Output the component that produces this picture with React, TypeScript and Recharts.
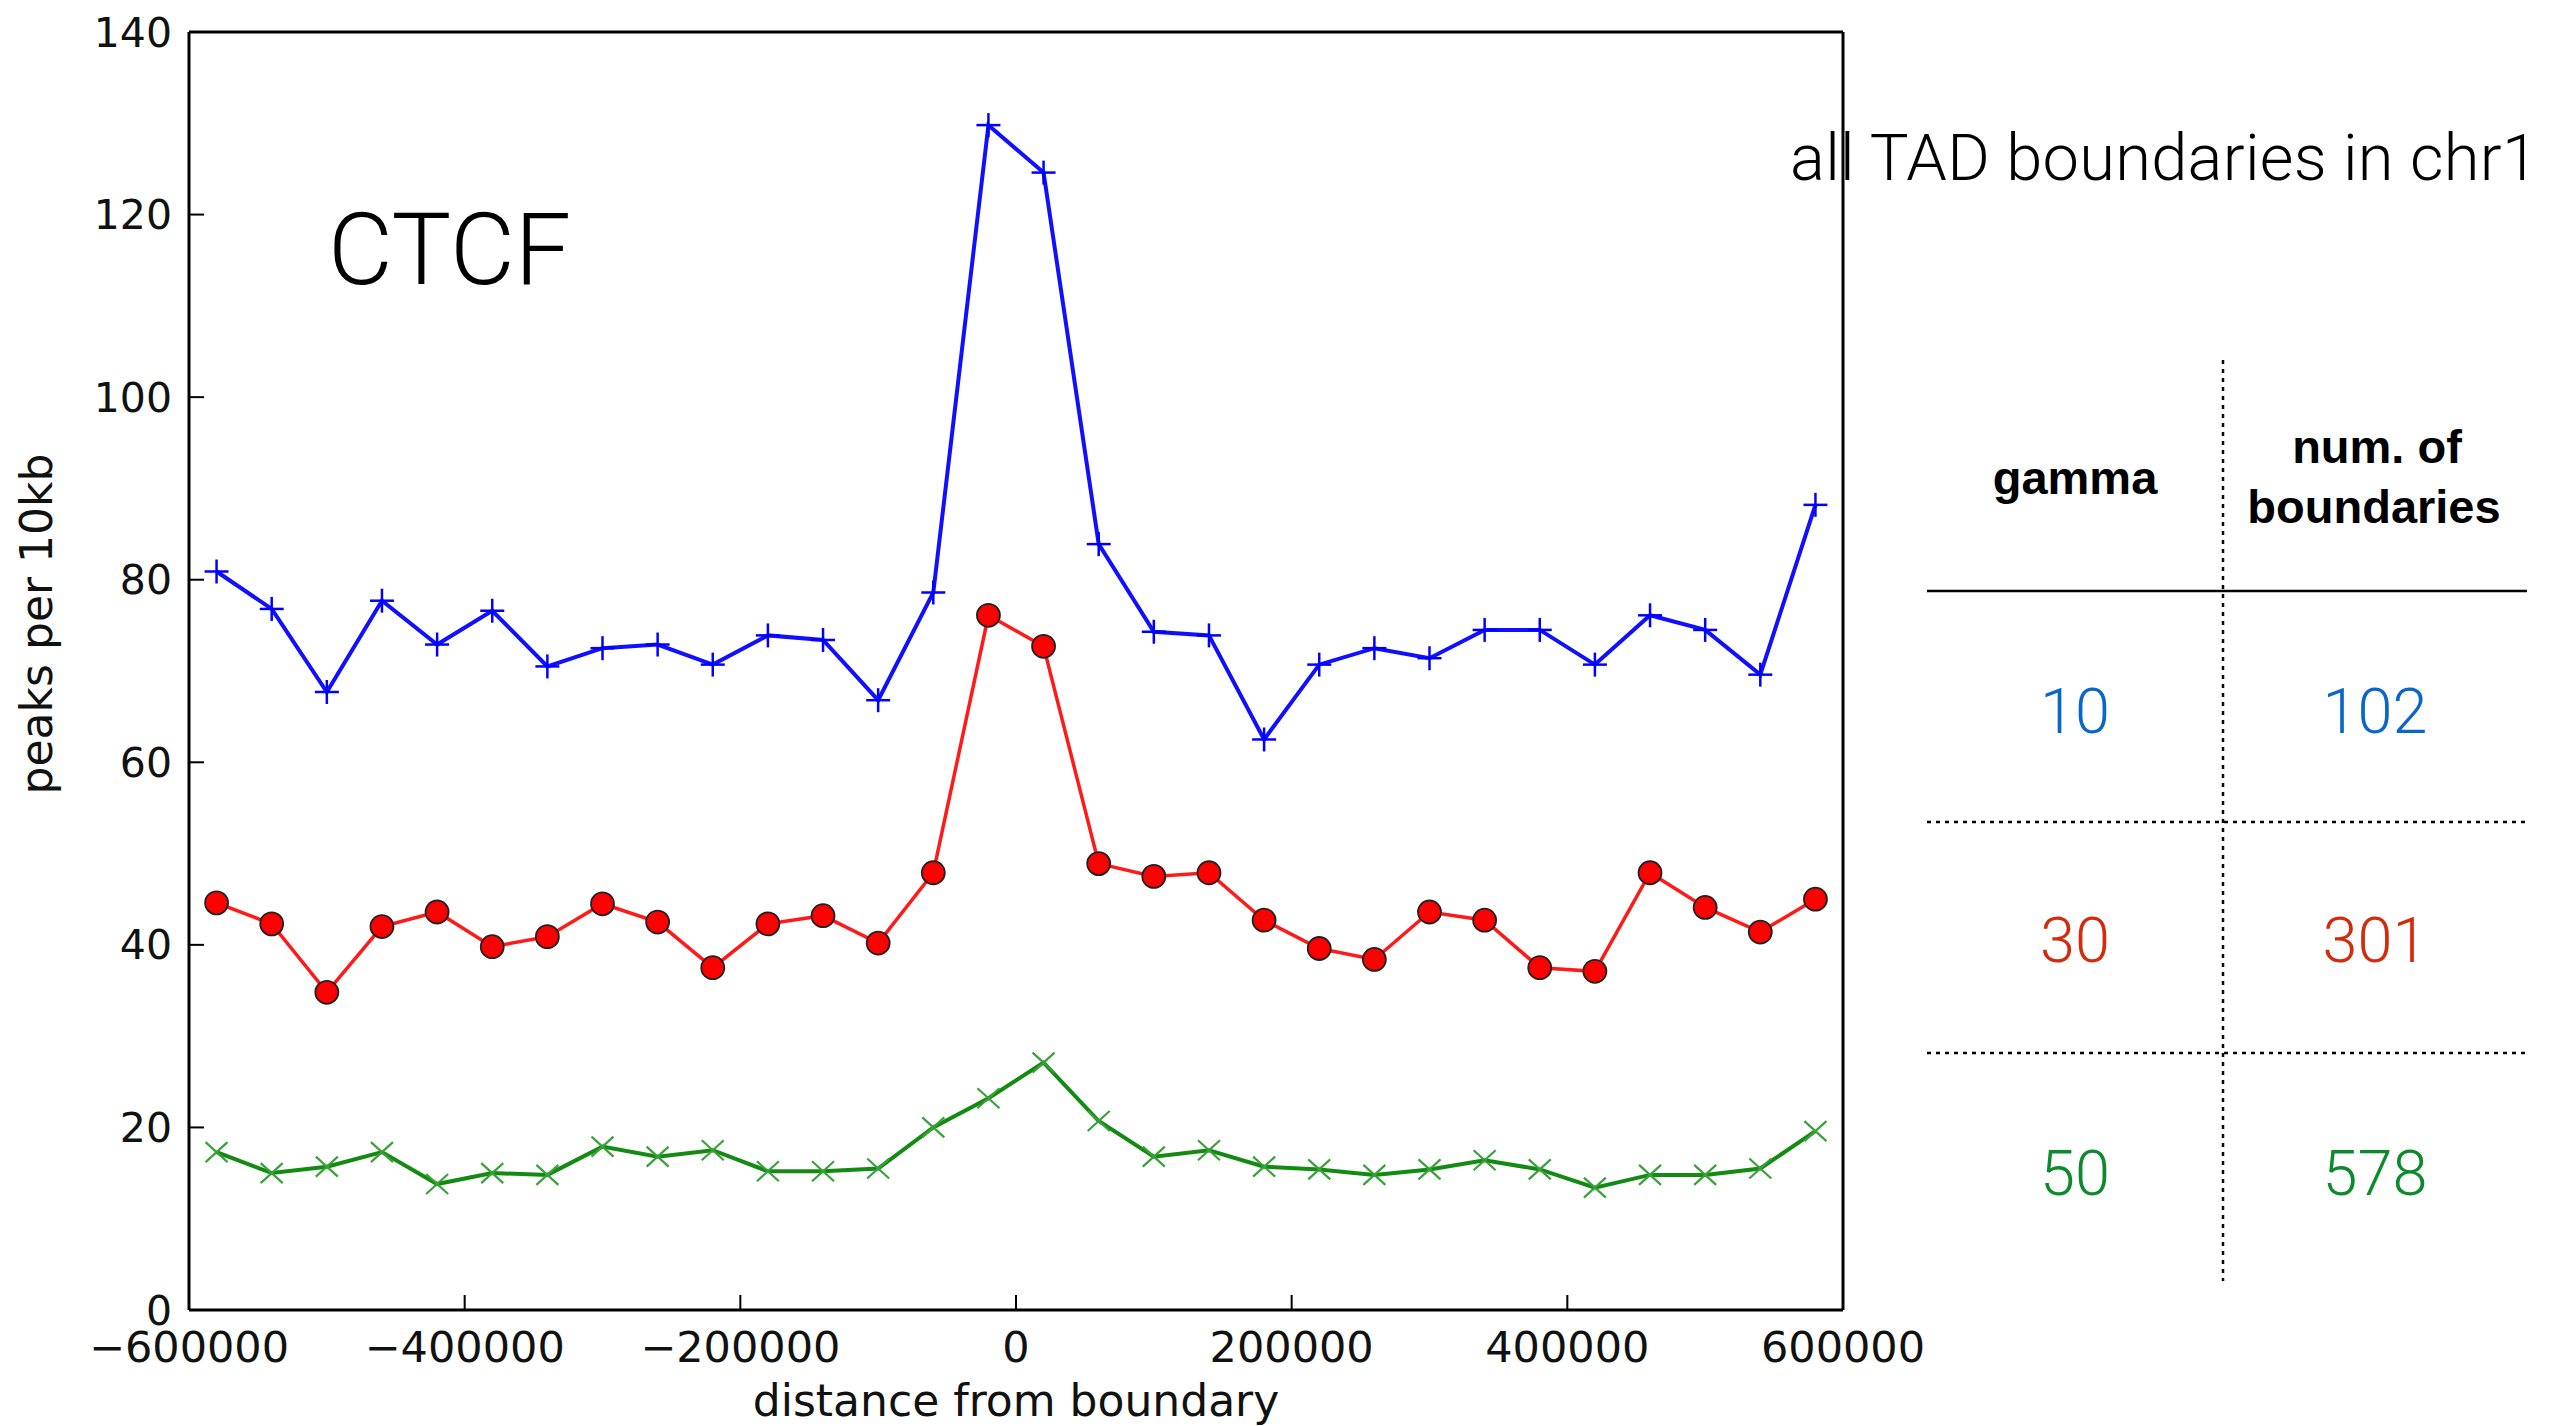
import React from 'react';
import { LineChart, Line, XAxis, YAxis } from 'recharts';

const positions = [
  -580000, -540000, -500000, -460000, -420000, -380000, -340000, -300000, -260000, -220000,
  -180000, -140000, -100000, -60000, -20000, 20000, 60000, 100000, 140000, 180000,
  220000, 260000, 300000, 340000, 380000, 420000, 460000, 500000, 540000, 580000,
];
const gamma10 = [
  80.9, 76.8, 67.7, 77.7, 72.9, 76.6, 70.5, 72.5, 72.9, 70.7,
  73.9, 73.4, 66.8, 78.6, 129.8, 124.6, 83.9, 74.3, 73.9, 62.5,
  70.7, 72.5, 71.4, 74.5, 74.5, 70.7, 76.1, 74.5, 69.6, 88.2,
];
const gamma30 = [
  44.6, 42.3, 34.8, 42.0, 43.6, 39.8, 40.9, 44.5, 42.5, 37.5,
  42.3, 43.2, 40.2, 47.9, 76.1, 72.7, 48.9, 47.5, 47.9, 42.7,
  39.6, 38.4, 43.6, 42.7, 37.5, 37.1, 47.9, 44.1, 41.4, 45.0,
];
const gamma50 = [
  17.3, 15.0, 15.7, 17.3, 13.8, 15.0, 14.8, 17.9, 16.8, 17.5,
  15.2, 15.2, 15.5, 20.0, 23.2, 27.1, 20.7, 16.8, 17.5, 15.7,
  15.4, 14.8, 15.4, 16.4, 15.4, 13.4, 14.8, 14.8, 15.5, 19.6,
];
const xTicks = [-600000, -400000, -200000, 0, 200000, 400000, 600000];
const yTicks = [0, 20, 40, 60, 80, 100, 120, 140];
const tableGamma = ['10', '30', '50'];
const tableCounts = ['102', '301', '578'];
const tableColors = ['#0a67c9', '#d22b0d', '#0d8a2c'];

const data = positions.map((x, i) => ({ x, g10: gamma10[i], g30: gamma30[i], g50: gamma50[i] }));

const fmt = (v: number) => (v < 0 ? '\u2212' + Math.abs(v) : String(v));
const xTickStyle = { fill: '#111', fontSize: 43, fontFamily: 'DejaVu Sans' };
const yTickStyle = { fill: '#111', fontSize: 41, fontFamily: 'DejaVu Sans' };

const PlusDot = (p: any) => {
  const { cx, cy, index } = p;
  if (cx == null || cy == null) return <g key={`p-${index}`} />;
  return (
    <g key={`p-${index}`}>
      <line x1={cx - 12} y1={cy} x2={cx + 12} y2={cy} stroke="#0000ff" strokeWidth={2.5} />
      <line x1={cx} y1={cy - 12} x2={cx} y2={cy + 12} stroke="#0000ff" strokeWidth={2.5} />
    </g>
  );
};
const CircleDot = (p: any) => {
  const { cx, cy, index } = p;
  if (cx == null || cy == null) return <g key={`c-${index}`} />;
  return <circle key={`c-${index}`} cx={cx} cy={cy} r={11.5} fill="#ff0000" stroke="#222" strokeWidth={1.8} />;
};
const XDot = (p: any) => {
  const { cx, cy, index } = p;
  if (cx == null || cy == null) return <g key={`x-${index}`} />;
  return (
    <g key={`x-${index}`}>
      <line x1={cx - 11} y1={cy - 10} x2={cx + 11} y2={cy + 10} stroke="#3aa03a" strokeWidth={2.2} />
      <line x1={cx - 11} y1={cy + 10} x2={cx + 11} y2={cy - 10} stroke="#3aa03a" strokeWidth={2.2} />
    </g>
  );
};

const rowBaselines = [733, 962, 1195];

export default function App() {
  return (
    <div style={{ position: 'absolute', left: 0, top: 0, width: 2559, height: 1426, background: '#fff' }}>
      <LineChart
        width={2559}
        height={1426}
        data={data}
        margin={{ top: 22, right: 706, bottom: 16, left: 89 }}
      >
        <XAxis
          xAxisId="bottom"
          dataKey="x"
          type="number"
          domain={[-600000, 600000]}
          ticks={xTicks}
          interval={0}
          tickFormatter={fmt}
          height={100}
          tick={xTickStyle}
          tickSize={-15}
          tickMargin={36}
          axisLine={{ stroke: '#000', strokeWidth: 3 }}
          tickLine={{ stroke: '#000', strokeWidth: 2 }}
          allowDataOverflow
        />
        <XAxis
          xAxisId="top"
          orientation="top"
          dataKey="x"
          type="number"
          domain={[-600000, 600000]}
          ticks={xTicks}
          interval={0}
          height={10}
          tick={false}
          tickSize={-15}
          axisLine={{ stroke: '#000', strokeWidth: 3 }}
          tickLine={{ stroke: '#000', strokeWidth: 2 }}
          allowDataOverflow
        />
        <YAxis
          yAxisId="left"
          type="number"
          domain={[0, 140]}
          ticks={yTicks}
          interval={0}
          width={100}
          tick={yTickStyle}
          tickSize={-15}
          tickMargin={32}
          axisLine={{ stroke: '#000', strokeWidth: 3 }}
          tickLine={{ stroke: '#000', strokeWidth: 2 }}
          allowDataOverflow
        />
        <YAxis
          yAxisId="right"
          orientation="right"
          type="number"
          domain={[0, 140]}
          ticks={yTicks}
          interval={0}
          width={10}
          tick={false}
          tickSize={-15}
          axisLine={{ stroke: '#000', strokeWidth: 3 }}
          tickLine={{ stroke: '#000', strokeWidth: 2 }}
          allowDataOverflow
        />
        <Line
          xAxisId="bottom"
          yAxisId="left"
          type="linear"
          dataKey="g50"
          stroke="#138b13"
          strokeWidth={4}
          dot={XDot}
          activeDot={false}
          isAnimationActive={false}
        />
        <Line
          xAxisId="bottom"
          yAxisId="left"
          type="linear"
          dataKey="g30"
          stroke="#ff1a1a"
          strokeWidth={3.5}
          dot={CircleDot}
          activeDot={false}
          isAnimationActive={false}
        />
        <Line
          xAxisId="bottom"
          yAxisId="left"
          type="linear"
          dataKey="g10"
          stroke="#1010ff"
          strokeWidth={4}
          dot={PlusDot}
          activeDot={false}
          isAnimationActive={false}
        />
      </LineChart>
      <svg
        width={2559}
        height={1426}
        style={{ position: 'absolute', left: 0, top: 0, pointerEvents: 'none' }}
      >
        <text
          x={36}
          y={624}
          transform="rotate(-90 36 624)"
          textAnchor="middle"
          dominantBaseline="central"
          fontFamily="DejaVu Sans"
          fontSize={44}
          fill="#111"
        >
          peaks per 10kb
        </text>
        <text x={1016} y={1416} textAnchor="middle" fontFamily="DejaVu Sans" fontSize={44} fill="#111">
          distance from boundary
        </text>
        <text x={328} y={284} fontFamily="Roboto" fontWeight={300} fontSize={100} fill="#000">
          CTCF
        </text>
        <text
          x={1790}
          y={180}
          fontFamily="Roboto"
          fontWeight={300}
          fontSize={65}
          textLength={748}
          fill="#000"
        >
          all TAD boundaries in chr1
        </text>
        <line x1={2223} y1={360} x2={2223} y2={1281} stroke="#000" strokeWidth={2.5} strokeDasharray="4 5" />
        <line x1={1927} y1={591} x2={2527} y2={591} stroke="#000" strokeWidth={2.5} />
        <line x1={1927} y1={822} x2={2527} y2={822} stroke="#000" strokeWidth={2.5} strokeDasharray="4 5" />
        <line x1={1927} y1={1053} x2={2527} y2={1053} stroke="#000" strokeWidth={2.5} strokeDasharray="4 5" />
        <text x={2075} y={494} textAnchor="middle" fontFamily="Liberation Sans" fontWeight={700} fontSize={47} fill="#000">
          gamma
        </text>
        <text x={2377} y={463} textAnchor="middle" fontFamily="Liberation Sans" fontWeight={700} fontSize={47} fill="#000">
          num. of
        </text>
        <text x={2374} y={523} textAnchor="middle" fontFamily="Liberation Sans" fontWeight={700} fontSize={47} fill="#000">
          boundaries
        </text>
        {tableGamma.map((g, i) => (
          <text
            key={`g-${g}`}
            x={2075}
            y={rowBaselines[i]}
            textAnchor="middle"
            fontFamily="Roboto"
            fontWeight={300}
            fontSize={63}
            fill={tableColors[i]}
          >
            {g}
          </text>
        ))}
        {tableCounts.map((c, i) => (
          <text
            key={`c-${c}`}
            x={2375}
            y={rowBaselines[i]}
            textAnchor="middle"
            fontFamily="Roboto"
            fontWeight={300}
            fontSize={63}
            fill={tableColors[i]}
          >
            {c}
          </text>
        ))}
      </svg>
    </div>
  );
}
